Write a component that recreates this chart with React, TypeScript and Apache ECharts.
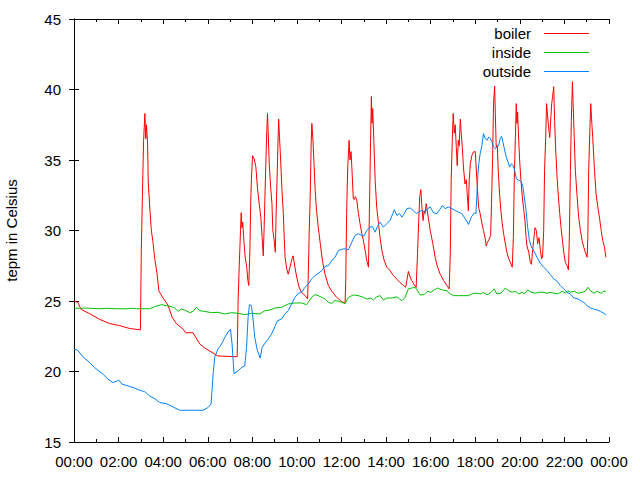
import React, { useEffect, useRef } from "react";
import * as echarts from "echarts";

// [hour of day, °C]
const boiler: [number, number][] = [
  [0.00,25.0],[0.17,24.9],[0.32,24.4],[0.70,24.1],[1.15,23.7],[1.60,23.4],[2.05,23.25],[2.50,23.05],[2.98,22.95],
  [3.02,28.7],[3.07,32.5],[3.12,36.3],[3.18,38.3],[3.22,36.5],[3.25,37.5],[3.30,36.2],[3.33,33.5],[3.40,31.6],[3.47,30.0],[3.55,29.1],[3.62,28.0],[3.72,27.0],[3.81,25.7],[4.00,25.2],[4.22,24.7],[4.40,23.85],[4.59,23.4],[4.90,23.0],[5.01,22.75],[5.34,22.75],[5.64,21.95],[5.87,21.66],[6.46,21.1],[7.32,21.05],
  [7.36,24.9],[7.41,27.4],[7.47,30.0],[7.50,31.26],[7.53,30.2],[7.57,30.6],[7.62,29.3],[7.68,28.1],[7.75,27.4],[7.80,26.45],[7.84,26.1],[7.89,28.6],[7.93,32.1],[7.96,33.7],[8.01,35.3],[8.08,35.1],[8.16,34.5],[8.23,33.0],[8.31,31.9],[8.38,30.95],[8.44,29.5],[8.49,28.2],[8.53,30.2],[8.56,32.1],[8.61,35.0],[8.65,37.1],[8.68,38.3],[8.71,37.0],[8.76,34.7],[8.82,33.1],[8.88,31.9],[8.92,30.0],[8.98,29.3],[9.03,28.46],[9.06,30.7],[9.10,33.1],[9.15,36.2],[9.18,37.9],[9.22,36.6],[9.27,35.0],[9.33,32.85],[9.39,31.2],[9.43,29.5],[9.47,28.1],[9.54,27.3],[9.61,26.9],[9.69,27.4],[9.78,28.0],[9.83,28.2],[9.91,27.4],[9.99,26.7],[10.09,26.0],[10.21,25.6],[10.36,25.4],[10.48,25.15],
  [10.51,26.9],[10.55,29.8],[10.60,32.6],[10.64,36.2],[10.67,37.6],[10.72,36.4],[10.76,35.0],[10.82,32.85],[10.88,31.4],[10.96,30.2],[11.05,29.05],[11.14,27.9],[11.26,26.9],[11.41,26.1],[11.56,25.7],[11.78,25.26],[12.01,24.95],[12.16,24.83],
  [12.19,26.45],[12.23,31.2],[12.28,34.5],[12.34,36.4],[12.38,35.0],[12.43,35.6],[12.47,34.27],[12.53,32.25],[12.58,32.2],[12.62,32.4],[12.68,32.2],[12.76,31.2],[12.83,30.5],[12.91,29.8],[12.98,29.3],[13.06,28.6],[13.13,27.9],[13.21,27.4],
  [13.25,31.2],[13.30,35.9],[13.34,39.5],[13.37,37.6],[13.40,38.65],[13.45,36.4],[13.51,33.55],[13.58,31.65],[13.66,30.5],[13.73,29.5],[13.81,28.6],[13.91,27.9],[14.03,27.4],[14.18,27.15],[14.33,26.8],[14.48,26.55],[14.63,26.3],[14.78,26.1],[14.88,25.97],[14.93,26.45],[15.00,27.1],[15.08,26.7],[15.15,26.45],[15.26,26.14],[15.35,25.97],
  [15.41,28.35],[15.47,30.95],[15.51,32.4],[15.56,32.9],[15.60,31.8],[15.66,30.7],[15.71,31.4],[15.75,31.2],[15.80,31.9],[15.84,31.5],[15.89,30.95],[15.98,30.0],[16.10,29.05],[16.20,28.1],[16.31,27.4],[16.43,26.9],[16.58,26.45],[16.73,26.1],[16.83,25.86],
  [16.88,28.35],[16.92,33.55],[16.97,36.4],[17.01,38.3],[17.06,36.9],[17.10,37.5],[17.15,35.9],[17.19,34.6],[17.24,36.4],[17.28,36.0],[17.33,37.9],[17.37,36.9],[17.42,35.9],[17.47,34.5],[17.54,33.3],[17.60,33.6],[17.64,32.6],[17.69,31.4],[17.73,33.55],[17.78,34.75],[17.85,35.33],[17.92,35.57],[18.00,35.6],[18.04,34.5],[18.09,33.1],[18.15,31.65],[18.22,31.2],[18.30,30.5],[18.37,30.0],[18.45,29.4],[18.49,28.9],[18.55,29.17],[18.63,29.4],[18.69,29.65],
  [18.73,31.9],[18.78,35.2],[18.82,39.0],[18.87,40.24],[18.90,38.3],[18.94,35.9],[18.99,36.04],[19.03,34.27],[19.09,32.6],[19.15,31.4],[19.21,30.5],[19.27,29.8],[19.35,29.05],[19.42,28.46],[19.50,28.0],[19.57,27.75],[19.66,27.4],
  [19.71,29.5],[19.75,33.55],[19.80,36.6],[19.84,39.0],[19.87,37.6],[19.90,38.4],[19.95,36.4],[19.99,35.0],[20.05,33.55],[20.11,32.4],[20.17,31.55],[20.23,30.7],[20.28,29.5],[20.32,28.9],[20.40,28.46],[20.47,27.75],[20.52,27.6],[20.56,28.35],[20.62,29.3],[20.68,30.2],[20.74,30.0],[20.80,29.05],[20.86,29.5],[20.92,28.6],[20.98,28.0],[21.02,28.1],
  [21.07,30.0],[21.11,34.27],[21.16,36.6],[21.20,39.0],[21.25,38.05],[21.29,37.35],[21.34,36.6],[21.38,37.7],[21.43,39.0],[21.47,39.5],[21.52,40.2],[21.56,37.8],[21.61,35.7],[21.67,33.8],[21.73,32.4],[21.79,31.2],[21.85,30.2],[21.91,29.3],[21.97,28.46],[22.04,27.75],[22.12,27.5],[22.18,27.2],
  [22.22,29.5],[22.27,34.27],[22.31,37.8],[22.36,40.55],[22.39,39.0],[22.44,36.6],[22.49,34.27],[22.57,32.4],[22.64,30.95],[22.72,30.0],[22.79,29.3],[22.87,28.8],[22.94,28.46],[23.02,28.1],
  [23.05,29.5],[23.09,34.27],[23.15,37.6],[23.18,39.0],[23.23,37.6],[23.27,36.6],[23.35,34.27],[23.42,32.6],[23.50,31.65],[23.57,30.95],[23.65,30.0],[23.72,29.3],[23.80,28.8],[23.86,28.1],
];

const inside: [number, number][] = [
  [0,24.5],[0.25,24.48],[0.55,24.5],[0.85,24.47],[1.15,24.45],[1.45,24.48],[1.90,24.45],[2.35,24.45],[2.64,24.48],[2.80,24.45],[3.39,24.45],[3.62,24.6],[3.92,24.74],[4.14,24.67],[4.37,24.6],[4.52,24.5],[4.67,24.26],[4.82,24.43],[4.97,24.36],[5.19,24.17],[5.34,24.26],[5.49,24.55],[5.64,24.31],[5.87,24.26],[6.17,24.17],[6.46,24.2],[6.76,24.08],[7.06,24.17],[7.36,24.13],[7.66,24.03],[7.96,24.13],[8.34,24.08],[8.56,24.31],[8.79,24.36],[9.01,24.5],[9.31,24.55],[9.61,24.79],[9.91,24.86],[10.21,24.86],[10.43,24.74],[10.51,24.9],[10.66,25.26],[10.81,25.45],[10.96,25.38],[11.11,25.26],[11.26,25.15],[11.41,24.9],[11.56,24.83],[11.71,25.03],[11.86,24.98],[12.01,24.9],[12.16,24.83],[12.31,25.26],[12.53,25.43],[12.76,25.38],[12.98,25.26],[13.13,25.14],[13.31,25.21],[13.43,25.07],[13.58,25.3],[13.73,25.38],[13.88,25.07],[14.03,25.21],[14.26,25.21],[14.48,25.3],[14.60,25.14],[14.71,25.03],[14.85,25.26],[15.00,25.86],[15.15,25.92],[15.30,25.97],[15.41,25.73],[15.53,25.43],[15.71,25.45],[15.86,25.69],[16.01,25.62],[16.16,25.79],[16.31,25.92],[16.50,25.79],[16.73,25.73],[16.88,25.5],[17.02,25.38],[17.25,25.38],[17.47,25.38],[17.70,25.38],[17.92,25.55],[18.08,25.55],[18.22,25.5],[18.37,25.6],[18.53,25.45],[18.67,25.55],[18.85,25.86],[18.97,25.5],[19.15,25.55],[19.35,25.92],[19.50,25.73],[19.65,25.62],[19.80,25.69],[19.95,25.5],[20.10,25.62],[20.20,25.5],[20.35,25.79],[20.50,25.62],[20.70,25.55],[20.85,25.62],[21.04,25.62],[21.22,25.55],[21.37,25.62],[21.55,25.55],[21.70,25.5],[21.90,25.69],[22.04,25.55],[22.15,25.73],[22.27,25.62],[22.45,25.69],[22.60,25.55],[22.79,25.62],[22.94,25.69],[23.05,25.97],[23.17,25.73],[23.32,25.55],[23.47,25.69],[23.65,25.55],[23.77,25.69],[23.86,25.69],
];

const outside: [number, number][] = [
  [0,21.6],[0.17,21.5],[0.40,21.04],[0.70,20.64],[0.92,20.28],[1.07,20.1],[1.30,19.81],[1.52,19.46],[1.74,19.22],[1.90,19.3],[2.01,19.39],[2.16,19.1],[2.42,18.98],[2.72,18.82],[2.94,18.67],[3.17,18.57],[3.39,18.27],[3.62,18.08],[3.84,17.8],[4.14,17.72],[4.44,17.49],[4.74,17.25],[5.79,17.25],[6.01,17.44],[6.15,17.7],[6.19,18.63],[6.24,19.8],[6.31,21.0],[6.46,21.6],[6.62,21.95],[6.76,22.4],[6.91,22.8],[7.02,23.0],[7.09,21.95],[7.18,19.85],[7.36,20.05],[7.51,20.28],[7.66,20.4],[7.74,21.7],[7.81,23.84],[7.87,24.74],[7.96,24.67],[8.04,23.6],[8.11,22.4],[8.23,21.47],[8.35,20.95],[8.44,21.7],[8.56,22.0],[8.71,22.3],[8.86,22.65],[9.01,23.18],[9.13,23.6],[9.31,23.72],[9.46,24.08],[9.61,24.31],[9.76,24.79],[9.91,25.26],[10.06,25.55],[10.21,25.6],[10.36,25.97],[10.51,26.21],[10.66,26.57],[10.81,26.8],[10.96,26.97],[11.11,27.15],[11.26,27.46],[11.41,27.5],[11.56,27.87],[11.71,28.1],[11.86,28.58],[12.01,28.67],[12.16,28.7],[12.31,28.63],[12.46,29.17],[12.61,29.65],[12.76,29.77],[12.91,29.65],[13.01,29.6],[13.13,30.0],[13.28,30.24],[13.39,30.28],[13.51,29.88],[13.61,30.28],[13.73,30.59],[13.88,30.24],[14.03,30.48],[14.18,30.71],[14.30,31.2],[14.37,31.47],[14.48,31.07],[14.60,31.2],[14.71,30.95],[14.82,31.2],[14.93,31.55],[15.08,31.6],[15.23,31.4],[15.35,31.2],[15.45,31.3],[15.60,31.42],[15.75,31.3],[15.86,31.55],[15.98,31.67],[16.13,31.25],[16.28,31.2],[16.40,31.47],[16.53,31.78],[16.65,31.55],[16.80,31.67],[16.95,31.55],[17.10,31.42],[17.25,31.3],[17.40,31.2],[17.55,30.83],[17.70,30.43],[17.82,30.95],[17.96,31.24],[18.03,31.2],[18.07,32.37],[18.12,34.03],[18.16,34.74],[18.22,35.45],[18.30,36.04],[18.37,36.87],[18.45,36.52],[18.53,36.4],[18.60,36.63],[18.67,36.52],[18.75,36.28],[18.82,35.92],[18.90,35.8],[18.97,35.92],[19.05,36.04],[19.12,36.52],[19.18,36.68],[19.24,36.28],[19.32,35.69],[19.39,35.21],[19.47,34.86],[19.54,34.5],[19.62,34.74],[19.69,34.62],[19.77,34.27],[19.84,33.68],[19.95,33.55],[20.05,33.5],[20.13,33.2],[20.20,32.37],[20.28,31.42],[20.35,30.24],[20.43,29.29],[20.50,28.93],[20.62,28.58],[20.77,28.1],[20.92,27.68],[21.07,27.39],[21.22,27.16],[21.37,26.87],[21.52,26.57],[21.67,26.4],[21.82,26.09],[21.97,25.86],[22.12,25.61],[22.27,25.5],[22.42,25.22],[22.57,25.17],[22.72,25.03],[22.87,24.9],[23.02,24.67],[23.17,24.5],[23.32,24.43],[23.47,24.36],[23.62,24.26],[23.77,24.12],[23.86,24.03],
];

const seriesNames = ["boiler", "inside", "outside"];
const seriesColors = ["#ff0000", "#00c000", "#0080ff"];
const yAxisTitle = "tepm in Celsius";

const FONT = "Liberation Sans, Arial, sans-serif";
const LEGEND_LINE_ICON = "path://M0,0 L45,0 L45,1 L0,1 Z";

function hourLabel(v: number): string {
  const h = Math.round(v) % 24;
  return (h < 10 ? "0" : "") + h + ":00";
}

export default function App() {
  const ref = useRef<HTMLDivElement>(null);
  useEffect(() => {
    if (!ref.current) return;
    const chart = echarts.init(ref.current, undefined, { renderer: "svg" });
    const axisLine = { show: true, lineStyle: { color: "#000", width: 1 } };
    const tick = { show: true, inside: true, length: 5, lineStyle: { color: "#000" } };
    const xCommon = {
      type: "value" as const,
      min: 0,
      max: 24,
      interval: 2,
      axisLine,
      axisTick: tick,
      minorTick: { show: true, splitNumber: 2, length: 3, lineStyle: { color: "#000" } },
      splitLine: { show: false },
    };
    const yCommon = {
      type: "value" as const,
      min: 15,
      max: 45,
      interval: 5,
      axisLine,
      axisTick: tick,
      splitLine: { show: false },
    };
    const data = [boiler, inside, outside];
    chart.setOption({
      animation: false,
      textStyle: { fontFamily: FONT },
      grid: { left: 74, right: 31, top: 19, bottom: 38, containLabel: false, outerBoundsMode: "none" },
      legend: {
        orient: "vertical",
        align: "right",
        right: 51,
        top: 26,
        padding: 0,
        itemWidth: 45,
        itemHeight: 15,
        itemGap: 4,
        selectedMode: false,
        icon: LEGEND_LINE_ICON,
        symbolKeepAspect: true,
        textStyle: { color: "#000", fontSize: 15, fontFamily: FONT, padding: [0, 8, 0, 0] },
        data: seriesNames,
      },
      xAxis: [
        {
          ...xCommon,
          position: "bottom",
          axisLabel: { color: "#000", fontSize: 15, fontFamily: FONT, margin: 12, formatter: hourLabel },
        },
        { ...xCommon, position: "top", axisLabel: { show: false } },
      ],
      yAxis: [
        {
          ...yCommon,
          position: "left",
          name: yAxisTitle,
          nameLocation: "middle",
          nameRotate: 90,
          nameGap: 55,
          nameTextStyle: { color: "#000", fontSize: 15, fontFamily: FONT },
          axisLabel: { color: "#000", fontSize: 15, fontFamily: FONT, margin: 13 },
        },
        { ...yCommon, position: "right", axisLabel: { show: false } },
      ],
      series: seriesNames.map((name, i) => ({
        name,
        type: "line",
        xAxisIndex: 0,
        yAxisIndex: 0,
        data: data[i],
        symbol: "none",
        showSymbol: false,
        lineStyle: { color: seriesColors[i], width: 1 },
        itemStyle: { color: seriesColors[i] },
        emphasis: { disabled: true },
      })),
    });
    return () => chart.dispose();
  }, []);
  return <div ref={ref} style={{ width: 640, height: 480, position: "absolute", left: 0, top: 0 }} />;
}
